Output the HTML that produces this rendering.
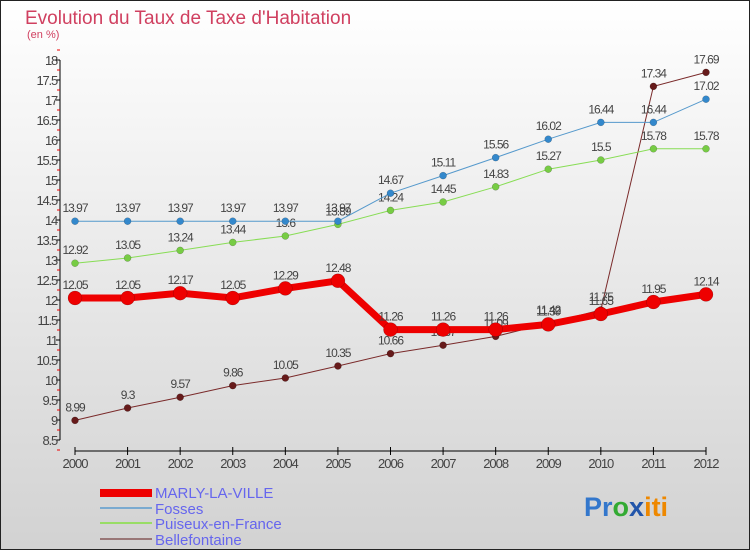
<!DOCTYPE html>
<html><head><meta charset="utf-8"><style>
html,body{margin:0;padding:0}
body{width:750px;height:550px;overflow:hidden;font-family:"Liberation Sans",sans-serif}
#wrap{position:absolute;left:0;top:0;width:748px;height:548px;border:1px solid #222;background:linear-gradient(#ffffff,#d2d2d2)}
</style></head><body>
<div id="wrap">
<svg id="chart" width="750" height="550" style="position:absolute;left:-1px;top:-1px">
<text x="25" y="24" font-size="19" fill="#d04060">Evolution du Taux de Taxe d'Habitation</text>
<text x="27" y="38" font-size="11" fill="#d04060">(en %)</text>
<g id="axes"></g><g id="series"></g>
<g>
<rect x="100" y="489" width="52" height="8" fill="#ee0000"/>
<text x="155" y="498" font-size="15" fill="#6666ee">MARLY-LA-VILLE</text>
<rect x="100" y="507" width="52" height="2" fill="#7aaad0"/>
<text x="155" y="514" font-size="15" fill="#6666ee">Fosses</text>
<rect x="100" y="522" width="52" height="2" fill="#99dd66"/>
<text x="155" y="529" font-size="15" fill="#6666ee">Puiseux-en-France</text>
<rect x="100" y="538" width="52" height="2" fill="#997777"/>
<text x="155" y="545" font-size="15" fill="#6666ee">Bellefontaine</text>
</g>
<text x="584" y="516" font-size="27" font-weight="bold"><tspan fill="#3377cc">Pr</tspan><tspan fill="#33aa33">o</tspan><tspan fill="#2255aa">x</tspan><tspan fill="#ee8800">iti</tspan></text>
</svg></div>
<script>
const years=[2000,2001,2002,2003,2004,2005,2006,2007,2008,2009,2010,2011,2012];
const marly=[12.05,12.05,12.17,12.05,12.29,12.48,11.26,11.26,11.26,11.39,11.65,11.95,12.14];
const fosses=[13.97,13.97,13.97,13.97,13.97,13.97,14.67,15.11,15.56,16.02,16.44,16.44,17.02];
const puiseux=[12.92,13.05,13.24,13.44,13.6,13.89,14.24,14.45,14.83,15.27,15.5,15.78,15.78];
const belle=[8.99,9.3,9.57,9.86,10.05,10.35,10.66,10.87,11.09,11.42,11.75,17.34,17.69];
const yTicks=[8.5,9,9.5,10,10.5,11,11.5,12,12.5,13,13.5,14,14.5,15,15.5,16,16.5,17,17.5,18];
const NS="http://www.w3.org/2000/svg";
const X=i=>75+i*(631/12);
const Y=v=>440-(v-8.5)*40;
function mk(tag,attrs,parent){const e=document.createElementNS(NS,tag);for(const k in attrs)e.setAttribute(k,attrs[k]);parent.appendChild(e);return e;}
const ax=document.getElementById('axes');
const yl=mk('line',{x1:60,y1:Y(18),x2:60,y2:Y(8.5),stroke:'#000'},ax);


yTicks.forEach(t=>{
  mk('line',{x1:56,x2:60,y1:Y(t),y2:Y(t),stroke:'#000'},ax);
  mk('line',{x1:57,x2:60,y1:Y(t)+10,y2:Y(t)+10,stroke:'#e00'},ax);
  if(t>8.5)mk('line',{x1:57,x2:60,y1:Y(t)-10,y2:Y(t)-10,stroke:'#e00'},ax);
  const tx=mk('text',{x:57,y:Y(t)+5,'font-size':13,fill:'#444','text-anchor':'end','letter-spacing':'-1.2'},ax);
  tx.textContent=t;
  
  
});
const xl=mk('line',{x1:X(0),y1:451,x2:X(12),y2:451,stroke:'#000'},ax);


years.forEach((yr,i)=>{
  mk('line',{x1:X(i),x2:X(i),y1:447,y2:455,stroke:'#000'},ax);
  const tx=mk('text',{x:X(i),y:468,'font-size':13,fill:'#444','text-anchor':'middle','letter-spacing':'-1'},ax);
  tx.textContent=yr;
  
  
});
const sg=document.getElementById('series');
function draw(vals,color,dot,w,r,name){
  const g=mk('g',{},sg);
  
  
  mk('polyline',{points:vals.map((v,i)=>X(i)+','+Y(v)).join(' '),fill:'none',stroke:color,'stroke-width':w},g);
  vals.forEach((v,i)=>{
    const c=mk('circle',{cx:X(i),cy:Y(v),r:r,fill:dot,stroke:'rgba(0,0,0,0.3)','stroke-width':0.5},g);
    
    
    const t=mk('text',{x:X(i),y:Y(v)-9,'font-size':12,fill:'#444','text-anchor':'middle','letter-spacing':'-1'},g);
    t.textContent=v;
    
    
  });
}
draw(belle,'#7a2a2a','#661a1a',1,3.5,'bellefontaine');
draw(puiseux,'#88dd55','#77cc44',1,3.5,'puiseux');
draw(fosses,'#5599cc','#3388cc',1,3.5,'fosses');
draw(marly,'#ee0000','#ee0000',7,7,'marly');
</script>
</body></html>
